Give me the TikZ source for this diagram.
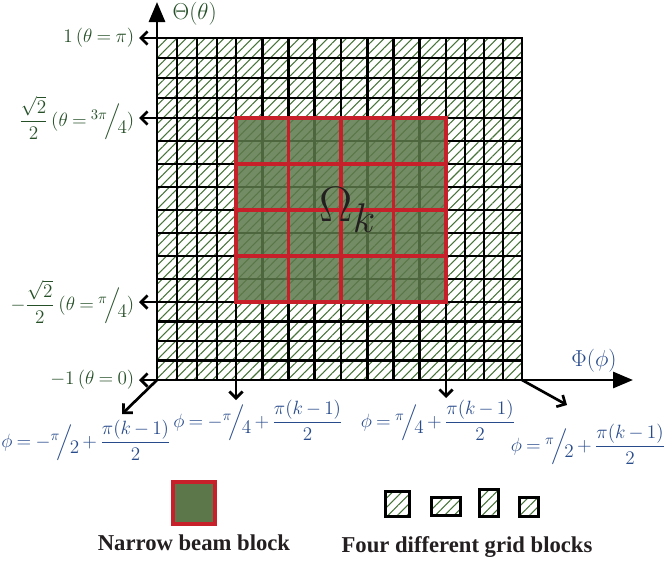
\documentclass[tikz,border=0pt]{standalone}
\usepackage{amsmath,amssymb}
\usepackage{fontspec}
\setmainfont{Liberation Serif}
\usepackage{tikz}
\usetikzlibrary{arrows.meta,patterns.meta,positioning}
\definecolor{thetagreen}{RGB}{38,80,40}
\definecolor{phiblue}{RGB}{40,75,140}
\definecolor{hatchgreen}{RGB}{70,115,55}
\definecolor{beamgreen}{RGB}{92,120,74}
\definecolor{beamred}{RGB}{200,32,42}
\definecolor{legendgray}{RGB}{35,31,32}
\newcommand{\slfrac}[2]{{}^{#1}\!\Big/\!\raisebox{-0.7ex}{$#2$}}
\newcommand{\tightmath}{\medmuskip=3mu\thickmuskip=4mu}

\tikzset{
  hatch/.style={pattern={Lines[angle=45,distance=5pt,line width=0.8pt]}, pattern color=hatchgreen},
  gridline/.style={line width=2.2pt, line cap=rect},
  redline/.style={beamred, line width=2.6pt, line cap=rect},
  smallarrow/.style={line width=2pt, -{Straight Barb[length=5pt,width=10pt]}},
  axisarrow/.style={line width=2.2pt, -{Triangle[length=15pt,width=12pt]}},
  thetalabel/.style={text=thetagreen, font=\fontsize{15}{18}\selectfont\tightmath},
  philabel/.style={text=phiblue, font=\fontsize{15}{18}\selectfont\tightmath},
  legendtext/.style={text=legendgray, font=\fontsize{17}{20}\selectfont\bfseries},
  gridkey/.style={draw, line width=2.2pt, hatch, inner sep=0pt},
  beamkey/.style={draw=beamred, line width=2.8pt, fill=beamgreen, inner sep=0pt}
}

\begin{document}
\begin{tikzpicture}[x=0.75pt,y=-0.75pt]
    \useasboundingbox (0,0) rectangle (667,564);

    % Hatched grid cells
    \fill[hatch] (157,38) rectangle (522,380);

    % Grid lines
    \foreach \gx in {157,177,197,217,236,262.25,288.5,314.75,341,367.25,393.5,419.75,446,465,484,503,522}
        \draw[gridline] (\gx,38) -- (\gx,380);
    \foreach \gy in {38,58,78,98,118,141,164,187,210,233,256,279,302,321.5,341,360.5,380}
        \draw[gridline] (157,\gy) -- (522,\gy);

    % Narrow beam region
    \fill[beamgreen, fill opacity=0.85] (236,118) rectangle (446,302);
    \foreach \rx in {236,288.5,341,393.5,446}
        \draw[redline] (\rx,118) -- (\rx,302);
    \foreach \ry in {118,164,210,256,302}
        \draw[redline] (236,\ry) -- (446,\ry);
    \node[text=legendgray, scale=1.5] (omega) at (348,210) {\Huge$\Omega_k$};

    % Corners and arrow ends
    \coordinate (g-tl) at (157,38);
    \coordinate (g-bl) at (157,380);
    \coordinate (g-br) at (522,380);
    \coordinate (g-b1) at (236,380);
    \coordinate (g-b2) at (446,380);
    \coordinate (theta-tip) at (157,2);
    \coordinate (phi-tip) at (633,380);

    % Axes
    \draw[axisarrow] (g-tl) -- (theta-tip);
    \draw[axisarrow] (g-br) -- (phi-tip);
    \node[thetalabel, right, font=\fontsize{17}{19}\selectfont] (theta-name) at (168,14) {$\Theta(\theta)$};
    \node[philabel, font=\fontsize{17}{19}\selectfont] (phi-name) at (594,361) {$\Phi(\phi)$};

    % Theta markers
    \coordinate (t-pi) at (139,38);
    \coordinate (t-3q) at (139,118);
    \coordinate (t-1q) at (139,302);
    \coordinate (t-0) at (139,380);
    \draw[smallarrow] (g-tl) -- (t-pi);
    \draw[smallarrow] (157,118) -- (t-3q);
    \draw[smallarrow] (157,302) -- (t-1q);
    \draw[smallarrow] (g-bl) -- (t-0);

    \node[thetalabel, left] (lab-pi) at (t-pi) {$1\,(\theta=\pi)$};
    \node[thetalabel, left] (lab-3q) at (t-3q) {$\dfrac{\sqrt{2}}{2}\,(\theta=\slfrac{3\pi}{4})$};
    \node[thetalabel, left] (lab-1q) at (t-1q) {$-\dfrac{\sqrt{2}}{2}\;(\theta=\slfrac{\pi}{4})$};
    \node[thetalabel, left] (lab-0) at (t-0) {$-1\,(\theta=0)$};

    % Phi markers
    \coordinate (p-a) at (122,414);
    \coordinate (p-b) at (236,400);
    \coordinate (p-c) at (446,398);
    \coordinate (p-d) at (567,405);
    \draw[smallarrow] (g-bl) -- (p-a);
    \draw[smallarrow] (g-b1) -- (p-b);
    \draw[smallarrow] (g-b2) -- (p-c);
    \draw[smallarrow] (g-br) -- (p-d);

    \node[philabel] (lab-a) at (86,440) {$\phi=-\slfrac{\pi}{2}+\dfrac{\pi(k-1)}{2}$};
    \node[philabel] (lab-b) at (258,420) {$\phi=-\slfrac{\pi}{4}+\dfrac{\pi(k-1)}{2}$};
    \node[philabel] (lab-c) at (438,420) {$\phi=\slfrac{\pi}{4}+\dfrac{\pi(k-1)}{2}$};
    \node[philabel] (lab-d) at (588,444) {$\phi=\slfrac{\pi}{2}+\dfrac{\pi(k-1)}{2}$};

    % Legend
    \node[beamkey, minimum width=32pt, minimum height=32pt] (beam-key) at (194,503) {};
    \node[legendtext, below=3pt of beam-key] (beam-text) {Narrow beam block};
    \node[gridkey, minimum width=18pt, minimum height=18.75pt] (key-a) at (397.5,504) {};
    \node[gridkey, minimum width=21.75pt, minimum height=13.5pt] (key-b) at (446,506.5) {};
    \node[gridkey, minimum width=14.25pt, minimum height=20.25pt] (key-c) at (489,503) {};
    \node[gridkey, minimum width=14.25pt, minimum height=14.25pt] (key-d) at (529,507) {};
    \node[legendtext] (grid-text) at (467,547) {Four different grid blocks};
\end{tikzpicture}
\end{document}
